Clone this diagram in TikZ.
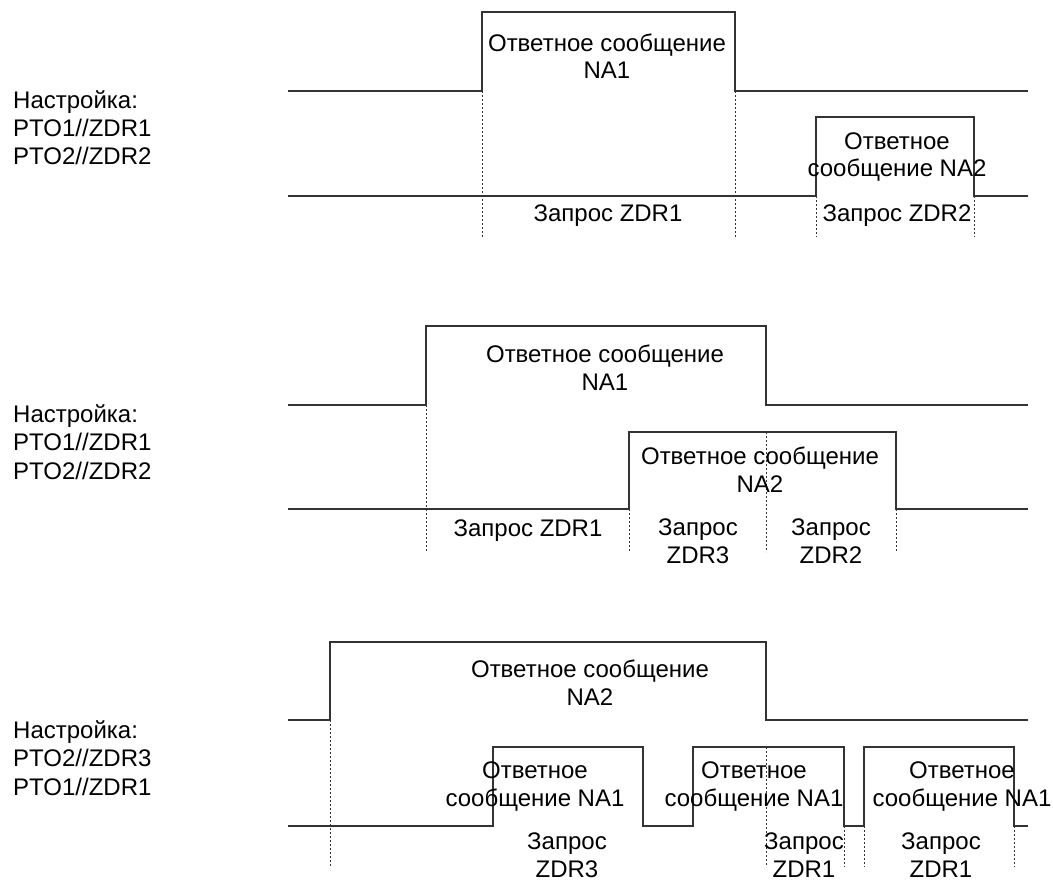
\documentclass[tikz,border=0pt]{standalone}
\usepackage{fontspec}
\setmainfont{Liberation Sans}
\usetikzlibrary{positioning}

\begin{document}
\begin{tikzpicture}[x=1pt, y=-1pt]
    \tikzstyle{wave} = [line width=1.2pt, draw=black!80]
    \tikzstyle{guide} = [line width=1pt, draw=black!80, dash pattern=on 2pt off 2pt]
    \tikzstyle{lbl} = [align=center, inner sep=0pt, anchor=base, font=\fontsize{24}{27.5}\selectfont]
    \tikzstyle{cfg} = [align=left, inner sep=0pt, anchor=base west, font=\fontsize{24}{28.5}\selectfont]

    \useasboundingbox (0,0) rectangle (1053,880);

    % case 1
    \node [cfg] (cfgA) at (13,165) {Настройка:\\PTO1//ZDR1\\PTO2//ZDR2};
    \draw [wave] (288,91) -- (482,91) -- (482,12) -- (735,12) -- (735,91) -- (1028,91);
    \draw [wave] (288,196) -- (816,196) -- (816,117) -- (974,117) -- (974,196) -- (1028,196);
    \draw [guide] (482,91) -- (482,237);
    \draw [guide] (735,91) -- (735,237);
    \draw [guide] (816,196) -- (816,237);
    \draw [guide] (974,196) -- (974,237);
    \node [lbl] (respA1) at (607,79) {Ответное сообщение\\NA1};
    \node [lbl] (respA2) at (897,177) {Ответное\\сообщение NA2};
    \node [lbl] (reqA1) at (608,222) {Запрос ZDR1};
    \node [lbl] (reqA2) at (897,222) {Запрос ZDR2};

    % case 2
    \node [cfg] (cfgB) at (13,479) {Настройка:\\PTO1//ZDR1\\PTO2//ZDR2};
    \draw [wave] (288,405) -- (426,405) -- (426,326) -- (766,326) -- (766,405) -- (1028,405);
    \draw [wave] (288,509) -- (629,509) -- (629,432) -- (896,432) -- (896,509) -- (1028,509);
    \draw [guide] (426,405) -- (426,552);
    \draw [guide] (629,509) -- (629,552);
    \draw [guide] (766,432) -- (766,552);
    \draw [guide] (896,509) -- (896,552);
    \node [lbl] (respB1) at (605,390) {Ответное сообщение\\NA1};
    \node [lbl] (respB2) at (760,492) {Ответное сообщение\\NA2};
    \node [lbl] (reqB1) at (528,536) {Запрос ZDR1};
    \node [lbl] (reqB3) at (698,563) {Запрос\\ZDR3};
    \node [lbl] (reqB2) at (831,563) {Запрос\\ZDR2};

    % case 3
    \node [cfg] (cfgC) at (13,795) {Настройка:\\PTO2//ZDR3\\PTO1//ZDR1};
    \draw [wave] (288,720) -- (330,720) -- (330,642) -- (766,642) -- (766,720) -- (1028,720);
    \draw [wave] (288,826) -- (493,826) -- (493,747) -- (643,747) -- (643,826)
        -- (693,826) -- (693,747) -- (844,747) -- (844,826)
        -- (864,826) -- (864,747) -- (1014,747) -- (1014,826) -- (1028,826);
    \draw [guide] (330,720) -- (330,867);
    \draw [guide] (766,747) -- (766,867);
    \draw [guide] (844,826) -- (844,867);
    \draw [guide] (864,826) -- (864,867);
    \draw [guide] (1014,826) -- (1014,867);
    \node [lbl] (respC2) at (590,705) {Ответное сообщение\\NA2};
    \node [lbl] (respC1a) at (535,806) {Ответное\\сообщение NA1};
    \node [lbl] (respC1b) at (754,806) {Ответное\\сообщение NA1};
    \node [lbl] (respC1c) at (962,806) {Ответное\\сообщение NA1};
    \node [lbl] (reqC3) at (567,877) {Запрос\\ZDR3};
    \node [lbl] (reqC1a) at (804,877) {Запрос\\ZDR1};
    \node [lbl] (reqC1b) at (941,877) {Запрос\\ZDR1};
\end{tikzpicture}
\end{document}
